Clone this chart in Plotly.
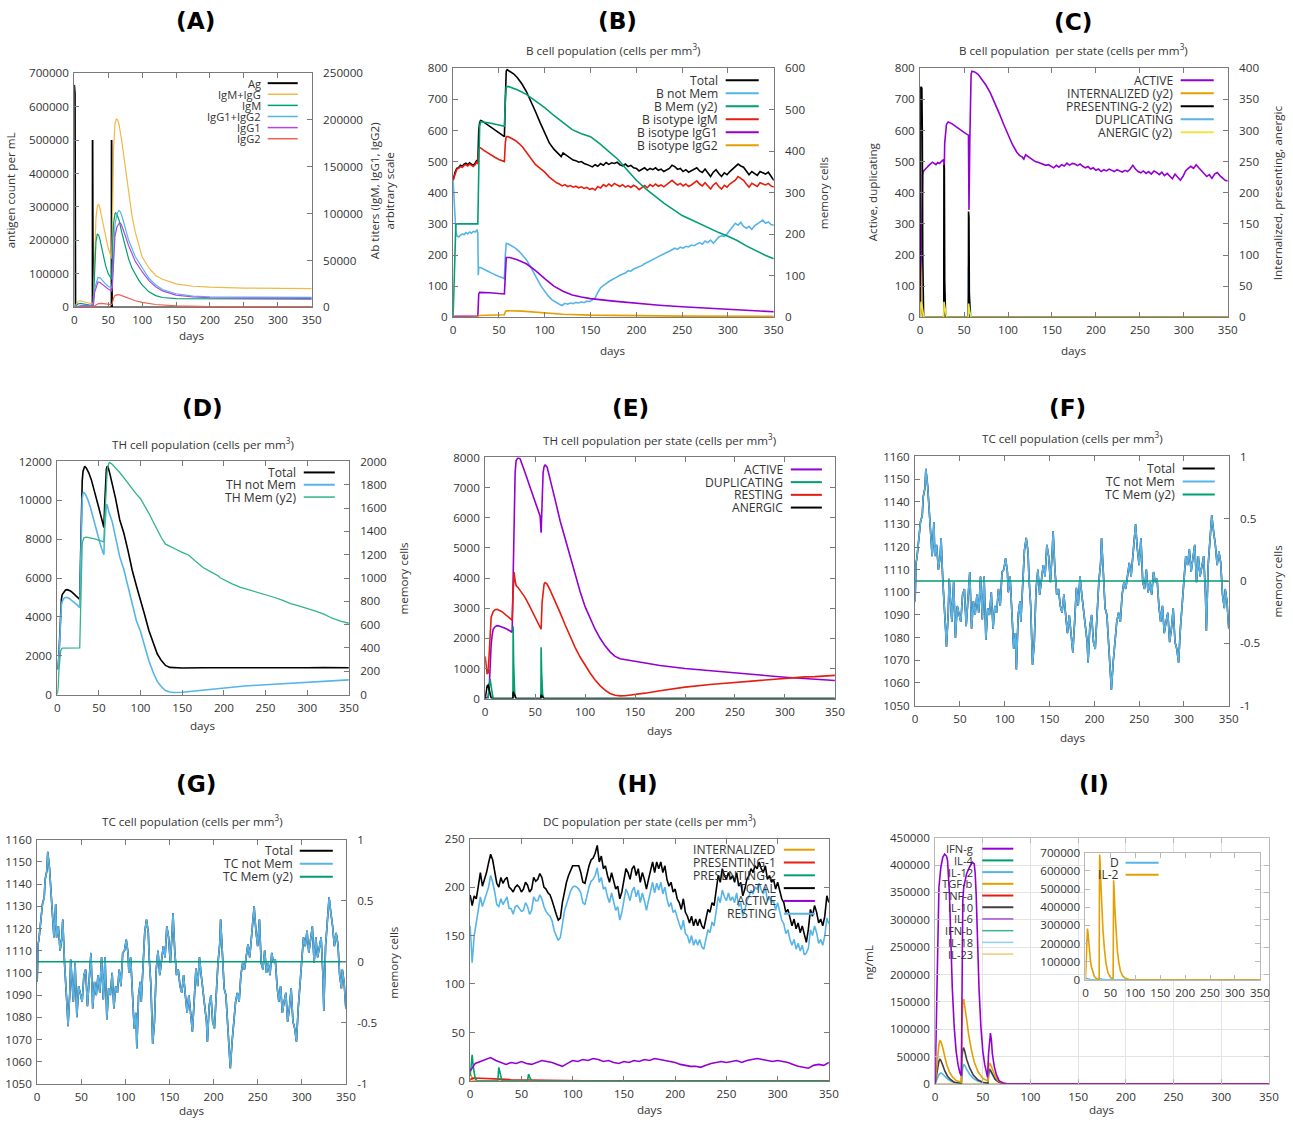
import plotly.graph_objects as go

# Figure canvas; positions below are given in reference-image pixels and mapped to paper
# coordinates (page has an 8px body margin, and the captured page is fitted back to 1293x1123).
W, H = 1293, 1123
OFF = 8
SX, SY = (W + 2 * OFF) / W, (H + 2 * OFF) / H
FS = SX  # font scale so that text keeps its apparent size
FONT = 'Open Sans'
TXT = '#333333'
AXC = '#7a7a7a'
PURPLE = '#9400D3'; GREEN = '#009E73'; LBLUE = '#56B4E9'; ORANGE = '#E69F00'
YELLOW = '#F0E442'; RED = '#E51E10'; BLACK = '#000000'

# ---------------- (A) antibody titers ----------------
A_AG = [(0, 665000), (1, 640000), (1.8, 0), (26.9, 0), (27, 500000), (27.7, 0), (54.9, 0), (55, 500000), (55.7, 0), (350, 0)]
A_IGMG = [(0, 0), (3, 3000), (6, 6500), (9, 7000), (12, 6500), (16, 5500), (20, 4500), (24, 3800), (27, 3500), (28, 6000),
          (30, 60000), (32, 95000), (34, 108000), (36, 110000), (38, 105000), (42, 90000), (46, 75000), (50, 63000), (54, 55000),
          (55, 52000), (56, 80000), (58, 170000), (60, 196000), (62, 201000), (64, 200000), (66, 195000), (70, 178000), (75, 150000),
          (80, 122000), (85, 98000), (90, 80000), (95, 66000), (100, 54000), (110, 42000), (120, 34000), (130, 30000), (150, 25000),
          (175, 22500), (200, 21500), (250, 20500), (300, 20200), (350, 20000)]
A_IGM = [(0, 0), (3, 1500), (6, 3800), (9, 4300), (12, 4000), (16, 3200), (20, 2500), (24, 2000), (27, 1800), (28, 4000),
         (30, 40000), (32, 70000), (34, 78500), (36, 77000), (38, 72000), (42, 58000), (46, 45000), (50, 36000), (54, 31000),
         (55, 30000), (56, 55000), (58, 90000), (60, 100000), (61, 101000), (63, 99000), (66, 93000), (70, 80000), (75, 66000),
         (80, 52000), (85, 42000), (90, 35000), (95, 29000), (100, 24000), (110, 16500), (120, 12500), (130, 10500), (150, 9200),
         (200, 8900), (350, 8800)]
A_IGG12 = [(0, 0), (4, 800), (8, 1800), (12, 2200), (16, 2000), (20, 1700), (27, 1300), (28, 1500), (30, 20000), (33, 29000),
           (35, 32000), (38, 31500), (42, 28000), (46, 25000), (50, 22500), (54, 21000), (55, 20500), (56, 25000), (58, 60000),
           (60, 88000), (63, 100000), (66, 103500), (68, 102000), (70, 98000), (75, 85000), (80, 72000), (90, 54000), (100, 42000),
           (110, 31000), (120, 24000), (130, 19000), (150, 14500), (175, 12000), (200, 11200), (250, 10800), (300, 10700), (350, 10600)]
A_IGG1 = [(0, 0), (4, 600), (8, 1400), (12, 1700), (16, 1600), (20, 1300), (27, 1000), (28, 1200), (30, 16000), (33, 24000),
          (35, 27000), (38, 26500), (42, 24000), (46, 21500), (50, 19500), (54, 18000), (55, 17500), (56, 21000), (58, 50000),
          (60, 76000), (63, 86000), (66, 89500), (68, 90000), (70, 87000), (75, 77000), (80, 66000), (90, 49000), (100, 38000),
          (110, 28500), (120, 22000), (130, 17500), (150, 13000), (175, 11000), (200, 10200), (250, 9800), (300, 9700), (350, 9600)]
A_IGG2 = [(0, 0), (10, 300), (20, 300), (27, 250), (28, 500), (32, 2500), (36, 4000), (40, 4300), (46, 3800), (54, 3000),
          (55, 2900), (56, 4000), (58, 10000), (60, 12500), (64, 13500), (68, 13000), (75, 11000), (80, 9500), (90, 7000),
          (100, 5200), (120, 3000), (150, 1500), (200, 800), (350, 600)]

# ---------------- (B) B cell population ----------------
B_TOTAL = [(0, 440), (2, 465), (4, 478), (6, 480), (8, 488), (10, 485), (12, 492), (14, 495), (16, 490), (18, 496), (20, 492),
           (22, 488), (24, 495), (26, 505), (27, 498), (27.5, 560), (28, 600), (29, 625), (30, 632), (32, 630), (36, 622), (40, 614),
           (44, 605), (48, 596), (52, 588), (55, 582), (56, 580), (57, 700), (58, 790), (59, 795), (62, 790), (66, 782), (70, 770),
           (75, 750), (80, 725), (85, 695), (90, 660), (95, 625), (100, 590), (105, 560), (110, 540), (113, 532), (116, 522),
           (118, 516), (120, 528), (122, 524), (125, 518), (128, 512), (131, 505), (134, 503), (137, 498), (140, 500), (143, 494),
           (146, 491), (149, 486), (152, 483), (155, 490), (158, 485), (161, 494), (164, 488), (167, 497), (170, 491), (173, 496),
           (176, 494), (179, 498), (182, 490), (185, 486), (188, 492), (191, 484), (194, 488), (197, 480), (200, 478), (203, 470),
           (206, 476), (209, 480), (212, 472), (215, 478), (218, 474), (221, 480), (224, 472), (227, 476), (230, 468), (233, 474),
           (236, 478), (239, 488), (242, 484), (245, 475), (248, 478), (251, 468), (254, 474), (257, 466), (260, 470), (263, 476),
           (266, 480), (269, 470), (272, 465), (275, 476), (278, 462), (281, 452), (284, 466), (287, 474), (290, 462), (293, 452),
           (296, 464), (299, 458), (302, 468), (305, 476), (308, 482), (311, 492), (314, 486), (317, 482), (320, 470), (323, 458),
           (326, 468), (329, 462), (332, 456), (335, 468), (338, 464), (341, 460), (344, 466), (347, 452), (350, 440)]
B_NOTMEM = [(0, 440), (1, 400), (2, 330), (3, 280), (4, 262), (6, 258), (8, 262), (10, 268), (12, 265), (14, 272), (16, 268),
            (18, 274), (20, 270), (22, 276), (24, 274), (26, 280), (27, 270), (27.5, 135), (28, 160), (30, 160), (34, 155),
            (38, 148), (42, 142), (46, 136), (50, 131), (54, 127), (56, 124), (57, 200), (58, 237), (60, 236), (64, 230), (68, 222),
            (72, 212), (76, 200), (80, 185), (84, 165), (88, 145), (92, 122), (96, 100), (100, 82), (104, 68), (108, 56), (112, 48),
            (116, 42), (119, 38), (122, 45), (125, 42), (128, 46), (131, 44), (134, 48), (137, 46), (140, 50), (143, 47), (146, 52),
            (149, 50), (152, 56), (155, 62), (158, 80), (161, 95), (164, 102), (167, 110), (170, 115), (173, 120), (176, 126),
            (179, 130), (182, 135), (185, 138), (188, 142), (191, 150), (194, 148), (197, 155), (200, 158), (203, 162), (206, 166),
            (209, 172), (212, 176), (215, 180), (218, 185), (221, 190), (224, 195), (227, 200), (230, 205), (233, 208), (236, 212),
            (239, 216), (242, 222), (245, 218), (248, 225), (251, 222), (254, 228), (257, 226), (260, 232), (263, 230), (266, 236),
            (269, 240), (272, 235), (275, 245), (278, 240), (281, 248), (284, 238), (287, 250), (290, 258), (293, 262), (296, 260),
            (299, 268), (302, 280), (305, 292), (308, 302), (311, 296), (314, 305), (317, 292), (320, 286), (323, 292), (326, 282),
            (329, 294), (332, 300), (335, 306), (338, 312), (341, 302), (344, 306), (347, 298), (350, 296)]
B_MEM = [(0, 0), (1, 100), (2, 190), (3, 222), (4, 225), (27, 225), (28, 350), (29, 460), (30, 471), (40, 468), (50, 463),
         (56, 460), (57, 520), (58, 555), (60, 556), (70, 548), (80, 537), (90, 522), (100, 505), (110, 486), (120, 468),
         (130, 452), (140, 442), (150, 435), (160, 418), (170, 400), (180, 380), (190, 355), (200, 330), (210, 310), (220, 292),
         (230, 275), (240, 260), (250, 245), (260, 235), (270, 224), (280, 214), (290, 204), (300, 195), (310, 185), (320, 172),
         (330, 160), (340, 150), (350, 141)]
B_IGM = [(0, 440), (2, 462), (4, 475), (6, 478), (8, 484), (10, 482), (12, 488), (14, 490), (16, 486), (18, 492), (20, 488),
         (22, 484), (24, 490), (26, 500), (27, 492), (28, 540), (29, 545), (30, 544), (34, 535), (38, 527), (42, 520), (46, 513),
         (50, 507), (54, 501), (56, 500), (57, 560), (58, 580), (60, 580), (64, 575), (68, 568), (72, 558), (76, 546), (80, 530),
         (85, 508), (90, 490), (95, 478), (100, 466), (105, 450), (110, 438), (113, 432), (116, 428), (119, 422), (122, 426),
         (125, 420), (128, 423), (131, 418), (134, 421), (137, 416), (140, 419), (143, 414), (146, 417), (149, 411), (152, 414),
         (155, 409), (158, 420), (161, 415), (164, 426), (167, 420), (170, 428), (173, 421), (176, 430), (179, 424), (182, 420),
         (185, 426), (188, 418), (191, 423), (194, 417), (197, 424), (200, 419), (203, 410), (206, 418), (209, 423), (212, 416),
         (215, 426), (218, 420), (221, 428), (224, 421), (227, 425), (230, 419), (233, 426), (236, 430), (239, 440), (242, 432),
         (245, 425), (248, 430), (251, 422), (254, 428), (257, 420), (260, 425), (263, 432), (266, 438), (269, 428), (272, 422),
         (275, 432), (278, 420), (281, 412), (284, 425), (287, 432), (290, 420), (293, 412), (296, 424), (299, 418), (302, 428),
         (305, 435), (308, 440), (311, 452), (314, 445), (317, 440), (320, 428), (323, 418), (326, 430), (329, 424), (332, 420),
         (335, 432), (338, 428), (341, 425), (344, 430), (347, 422), (350, 418)]
B_IGG1 = [(0, 0), (2, 3), (27, 4), (28, 75), (29, 80), (40, 79), (56, 75), (57, 170), (58, 192), (62, 192), (70, 185), (80, 172),
          (90, 150), (100, 124), (110, 100), (120, 84), (130, 72), (140, 65), (150, 60), (175, 52), (200, 45), (225, 39), (250, 34),
          (275, 30), (300, 26), (325, 22), (350, 18)]
B_IGG2 = [(0, 0), (27, 1), (28, 6), (56, 8), (57, 18), (58, 21), (75, 20), (90, 17), (100, 15), (110, 12), (120, 10), (150, 7),
          (200, 5), (250, 4), (350, 3)]

# ---------------- (C) B cell per state ----------------
C_ACTIVE = [(0, 0), (1, 150), (2, 400), (3, 460), (4, 470), (6, 478), (8, 482), (10, 488), (12, 492), (14, 498), (16, 494),
            (18, 490), (20, 497), (22, 494), (24, 500), (26, 505), (27, 498), (27.5, 480), (28, 560), (29, 610), (30, 620),
            (32, 627), (36, 622), (40, 614), (44, 605), (48, 597), (52, 590), (55, 585), (55.6, 345), (56.5, 560), (57, 700),
            (58, 780), (59, 790), (62, 788), (66, 780), (70, 765), (75, 745), (80, 720), (85, 690), (90, 655), (95, 620), (100, 585),
            (105, 555), (110, 530), (113, 520), (116, 515), (118, 508), (120, 522), (122, 518), (125, 510), (128, 505), (131, 500),
            (134, 498), (137, 495), (140, 492), (143, 488), (146, 490), (149, 484), (152, 480), (155, 488), (158, 482), (161, 490),
            (164, 486), (167, 495), (170, 488), (173, 494), (176, 492), (179, 487), (182, 492), (185, 485), (188, 480), (191, 484),
            (194, 476), (197, 480), (200, 472), (203, 476), (206, 468), (209, 474), (212, 470), (215, 476), (218, 472), (221, 468),
            (224, 474), (227, 470), (230, 466), (233, 472), (236, 468), (239, 476), (242, 488), (245, 476), (248, 468), (251, 464),
            (254, 470), (257, 462), (260, 468), (263, 460), (266, 470), (269, 465), (272, 458), (275, 466), (278, 455), (281, 462),
            (284, 452), (287, 445), (290, 460), (293, 450), (296, 440), (299, 452), (302, 470), (305, 478), (308, 485), (311, 478),
            (314, 490), (317, 480), (320, 470), (323, 462), (326, 452), (329, 458), (332, 446), (335, 460), (338, 465), (341, 455),
            (344, 448), (347, 440), (350, 438)]
C_INTERN = [(0, 0), (0.3, 88), (1, 50), (2, 10), (3, 0), (26.9, 0), (27, 65), (28, 15), (29, 0), (54.9, 0), (55, 30), (56, 5),
            (57, 0), (350, 0)]
C_PRES2 = [(0, 0), (0.3, 340), (0.7, 370), (2, 368), (2.5, 300), (3, 100), (3.5, 20), (4, 0), (26.9, 0), (27.1, 245),
           (27.6, 240), (28, 60), (28.5, 5), (29, 0), (54.9, 0), (55.1, 170), (55.6, 160), (56, 40), (56.5, 5), (57, 0), (350, 0)]
C_DUP = [(0, 0), (1, 50), (2, 20), (3, 0), (26.9, 0), (27.1, 95), (28, 40), (29, 0), (54.9, 0), (55.1, 165), (56, 60), (57, 10),
         (58, 0), (350, 0)]
C_ANERG = [(0, 0), (1, 25), (2, 20), (3, 8), (4, 2), (5, 0), (26.9, 0), (27.2, 25), (28, 15), (29, 3), (30, 0), (54.9, 0),
           (55.2, 22), (56, 12), (57, 3), (58, 0), (350, 0)]

# ---------------- (D) TH cell population ----------------
D_TOTAL = [(0, 1300), (1, 1400), (2, 2000), (3, 3300), (4, 4400), (5, 4900), (6, 5150), (8, 5300), (10, 5380), (12, 5400),
           (14, 5380), (16, 5330), (18, 5260), (20, 5180), (22, 5100), (24, 5020), (26, 4950), (27, 4900), (28, 7000), (29, 9500),
           (30, 11000), (31, 11500), (32, 11700), (33, 11750), (35, 11650), (38, 11400), (41, 11050), (44, 10600), (47, 10100),
           (50, 9600), (53, 9100), (56, 8600), (57, 9800), (58, 11000), (59, 11600), (60, 11750), (61, 11700), (63, 11400),
           (66, 10900), (70, 10100), (75, 9000), (80, 8300), (85, 7400), (90, 6400), (95, 5600), (100, 4900), (105, 4100),
           (110, 3300), (115, 2650), (120, 2100), (125, 1750), (130, 1500), (135, 1400), (140, 1380), (150, 1370), (175, 1380),
           (200, 1375), (225, 1365), (250, 1375), (275, 1370), (300, 1380), (320, 1390), (335, 1380), (350, 1380)]
D_NOTMEM = [(0, 1300), (1, 1350), (2, 1900), (3, 3100), (4, 4100), (5, 4600), (6, 4800), (8, 4950), (10, 5000), (12, 5000),
            (14, 4960), (16, 4900), (18, 4830), (20, 4750), (22, 4680), (24, 4600), (26, 4530), (27, 4480), (28, 6500), (29, 9000),
            (30, 10100), (31, 10350), (32, 10400), (34, 10300), (37, 10000), (40, 9600), (43, 9100), (46, 8600), (49, 8100),
            (52, 7700), (55, 7300), (56, 7200), (57, 8500), (58, 9600), (59, 9800), (60, 9750), (62, 9400), (66, 8900), (70, 8170),
            (75, 7100), (80, 6440), (85, 5590), (90, 4640), (95, 3800), (100, 3250), (105, 2480), (110, 1740), (115, 1160),
            (120, 680), (125, 400), (130, 210), (135, 130), (140, 110), (150, 120), (175, 230), (200, 350), (225, 440), (250, 510),
            (275, 570), (300, 630), (325, 700), (350, 760)]
D_MEM = [(0, 0), (1, 50), (2, 200), (3, 320), (4, 370), (5, 390), (6, 398), (27, 400), (28, 800), (29, 1150), (30, 1300),
         (32, 1345), (35, 1350), (45, 1335), (56, 1310), (57, 1500), (58, 1700), (59, 1850), (60, 1930), (62, 1985), (63, 1990),
         (66, 1975), (70, 1945), (75, 1905), (80, 1860), (85, 1810), (90, 1760), (95, 1720), (100, 1680), (105, 1620), (110, 1555),
         (115, 1485), (120, 1415), (125, 1345), (130, 1290), (135, 1270), (140, 1255), (150, 1220), (158, 1195), (165, 1150),
         (175, 1090), (185, 1050), (193, 1020), (196, 1000), (200, 985), (210, 950), (220, 920), (230, 900), (240, 880),
         (250, 860), (260, 835), (270, 810), (280, 780), (290, 760), (300, 740), (310, 715), (320, 690), (330, 655), (340, 630),
         (350, 612)]

# ---------------- (E) TH cell per state ----------------
E_ACTIVE = [(0, 0), (3, 50), (4, 300), (5, 1200), (6, 1800), (7, 2100), (8, 2300), (10, 2390), (12, 2420), (14, 2410),
            (16, 2390), (18, 2360), (20, 2330), (22, 2300), (24, 2260), (26, 2220), (27, 2200), (28, 4000), (29, 6500), (30, 7500),
            (31, 7900), (33, 8000), (35, 7950), (38, 7700), (41, 7400), (44, 7100), (47, 6800), (50, 6500), (53, 6250), (55, 6050),
            (56, 5500), (57, 6800), (58, 7500), (59, 7700), (60, 7750), (62, 7680), (65, 7300), (70, 6600), (75, 5900), (80, 5300),
            (85, 4700), (90, 4100), (95, 3550), (100, 3050), (105, 2650), (110, 2300), (115, 2000), (120, 1750), (125, 1550),
            (130, 1400), (135, 1320), (140, 1290), (150, 1230), (160, 1180), (175, 1100), (200, 1000), (225, 920), (250, 850),
            (275, 780), (300, 710), (325, 650), (350, 600)]
E_DUP = [(0, 0), (3, 0), (4, 400), (5, 650), (6, 400), (7, 100), (8, 0), (27.8, 0), (28, 2400), (28.5, 1200), (29.5, 200),
         (30.5, 0), (55.8, 0), (56, 1700), (56.5, 900), (57.5, 150), (58.5, 0), (350, 0)]
E_REST = [(0, 1400), (1, 1000), (2, 820), (3, 850), (4, 1500), (5, 2300), (6, 2700), (8, 2880), (10, 2950), (12, 2960),
          (14, 2940), (16, 2900), (18, 2850), (20, 2800), (22, 2750), (24, 2700), (26, 2640), (27, 2600), (28, 3500), (29, 4200),
          (30, 3900), (31, 3750), (33, 3680), (36, 3550), (40, 3350), (44, 3100), (48, 2850), (52, 2600), (55, 2400), (56, 2300),
          (57, 3200), (59, 3800), (60, 3850), (62, 3800), (65, 3600), (70, 3250), (75, 2850), (80, 2450), (85, 2050), (90, 1700),
          (95, 1380), (100, 1100), (105, 850), (110, 620), (115, 430), (120, 280), (125, 170), (130, 110), (135, 90), (140, 95),
          (150, 130), (160, 180), (175, 260), (200, 380), (225, 470), (250, 540), (275, 600), (300, 660), (310, 700), (320, 720),
          (330, 730), (340, 750), (345, 780), (350, 770)]
E_ANERG = [(0, 0), (1, 250), (2, 420), (3, 450), (4, 300), (5, 100), (6, 20), (7, 0), (27.8, 0), (28, 230), (29, 150), (30, 40),
           (31, 0), (55.8, 0), (56, 130), (57, 80), (58, 20), (59, 0), (350, 0)]

# ---------------- (F), (G) TC cell population ----------------
TC_NOTMEM = [(0, 1096), (1, 1113), (2, 1115), (4, 1124), (6, 1131), (8, 1134), (9, 1142), (11, 1146), (12, 1154.5), (14, 1147),
             (16, 1134), (18, 1121), (19, 1116), (21, 1131), (22, 1116), (24, 1121), (26, 1110), (28, 1116), (29, 1124),
             (31, 1104.5), (33, 1093), (34, 1084), (35, 1076), (37, 1091), (38, 1106), (40, 1096), (41, 1087), (43, 1104.5),
             (45, 1080), (47, 1094), (49, 1090), (51, 1087), (53, 1099), (55, 1101.5), (57, 1085), (59, 1097), (61, 1109),
             (63, 1084), (65, 1096), (67, 1090), (69, 1099), (71, 1091), (73, 1107), (75, 1088), (77, 1107), (79, 1079), (81, 1093),
             (83, 1090), (85, 1100), (87, 1084), (89, 1094), (91, 1091), (93, 1101.5), (95, 1094), (97, 1109), (99, 1110),
             (101, 1115), (103, 1109), (104, 1100), (106, 1107), (108, 1087), (110, 1075), (112, 1082), (113, 1066), (115, 1090),
             (117, 1096), (118, 1087), (120, 1104.5), (122, 1118.5), (124, 1124), (126, 1118), (127, 1107), (129, 1094),
             (131, 1068), (133, 1078), (135, 1101.5), (137, 1110), (139, 1099), (141, 1107), (143, 1112), (145, 1107), (147, 1121),
             (149, 1116), (151, 1104.5), (153, 1118), (154, 1127), (156, 1110), (158, 1099), (160, 1101.5), (162, 1094),
             (164, 1091), (166, 1099), (168, 1090), (170, 1082), (172, 1090), (174, 1081), (176, 1073.5), (178, 1087), (180, 1102),
             (182, 1094), (184, 1107), (186, 1099), (188, 1091), (190, 1084), (192, 1078), (193, 1069), (195, 1085), (197, 1090),
             (199, 1078), (201, 1075), (203, 1090), (205, 1104.5), (207, 1113), (208, 1124), (210, 1109), (212, 1093), (214, 1090),
             (216, 1076.5), (218, 1063), (219, 1057), (221, 1069), (223, 1078), (225, 1087), (227, 1091), (229, 1087), (231, 1099),
             (233, 1104.5), (235, 1101.5), (237, 1107), (239, 1113), (241, 1107), (243, 1116), (245, 1124), (246, 1130),
             (248, 1119), (250, 1112), (252, 1124), (254, 1104.5), (256, 1101.5), (258, 1110), (260, 1100), (262, 1104.5),
             (264, 1099), (266, 1109), (268, 1104.5), (270, 1106), (272, 1094), (274, 1087), (276, 1094), (278, 1082), (280, 1087),
             (282, 1091), (284, 1078), (286, 1084), (288, 1093), (290, 1078), (292, 1075), (294, 1069), (296, 1084), (298, 1096),
             (300, 1104.5), (302, 1116), (304, 1112), (306, 1119), (308, 1109), (310, 1116), (312, 1121), (314, 1104.5),
             (316, 1116), (318, 1107), (320, 1112), (322, 1116), (324, 1099), (325, 1083), (327, 1112), (329, 1124), (331, 1134),
             (333, 1127), (335, 1121), (337, 1112), (339, 1118), (341, 1113), (343, 1099), (345, 1093), (346, 1101.5), (348, 1096),
             (350, 1084)]
TC_MEM = [(0, 0), (350, 0)]

# ---------------- (H) DC population per state ----------------
H_DAYS = list(range(0, 351, 2))
H_TOTAL = [192, 181, 191, 188, 201, 215, 201, 208, 215, 225,
           234, 228, 216, 204, 200, 210, 204, 208, 210, 200,
           198, 195, 200, 202, 200, 195, 198, 205, 202, 195,
           198, 210, 206, 208, 214, 210, 200, 198, 194, 192,
           186, 178, 172, 166, 168, 184, 196, 205, 212, 217,
           222, 222, 222, 222, 215, 205, 204, 214, 222, 228,
           230, 235, 243, 226, 232, 219, 222, 212, 205, 215,
           205, 198, 201, 188, 195, 208, 219, 215, 208, 219,
           222, 212, 219, 205, 215, 208, 198, 208, 219, 226,
           215, 226, 219, 226, 215, 222, 208, 201, 205, 195,
           198, 188, 184, 177, 188, 174, 170, 163, 170, 160,
           167, 160, 167, 160, 157, 167, 177, 174, 184, 181,
           198, 212, 205, 219, 212, 208, 215, 208, 212, 205,
           215, 201, 205, 191, 198, 208, 212, 219, 215, 222,
           219, 226, 219, 215, 222, 208, 212, 205, 208, 198,
           205, 195, 188, 184, 174, 177, 167, 160, 167, 157,
           163, 153, 160, 150, 143, 157, 177, 170, 181, 174,
           163, 167, 160, 170, 191, 184]
H_RESTING = [160, 122, 150, 165, 178, 190, 180, 186, 192, 200,
             212, 205, 195, 182, 180, 188, 182, 186, 190, 178,
             178, 172, 180, 181, 178, 175, 176, 184, 180, 172,
             176, 190, 186, 186, 192, 188, 180, 175, 172, 170,
             165, 155, 150, 145, 148, 162, 175, 182, 190, 196,
             200, 201, 200, 198, 194, 184, 182, 192, 200, 206,
             208, 212, 220, 205, 210, 198, 200, 190, 184, 194,
             184, 176, 180, 166, 174, 186, 198, 193, 186, 196,
             200, 190, 197, 184, 194, 186, 176, 186, 197, 205,
             194, 204, 197, 205, 193, 200, 188, 180, 184, 174,
             176, 168, 162, 156, 166, 152, 150, 142, 150, 140,
             146, 140, 146, 138, 136, 146, 156, 153, 164, 160,
             176, 190, 184, 197, 190, 186, 194, 186, 190, 184,
             194, 180, 184, 170, 176, 186, 190, 197, 193, 200,
             198, 204, 197, 193, 200, 186, 190, 184, 186, 176,
             184, 174, 166, 162, 152, 156, 146, 140, 146, 136,
             142, 134, 140, 130, 132, 137, 156, 150, 160, 153,
             142, 146, 140, 150, 168, 162]
H_ACT_DAYS = list(range(0, 351, 5))
H_ACTIVE = [10, 18, 20, 22, 24, 21, 19, 17, 19, 18, 20, 18, 17, 19, 21, 20, 19, 17, 15, 18,
            21, 20, 22, 21, 23, 22, 20, 21, 19, 18, 20, 19, 21, 20, 22, 21, 23, 22, 21, 20,
            19, 17, 16, 15, 15, 14, 16, 18, 19, 20, 19, 20, 21, 19, 21, 22, 23, 22, 21, 20,
            21, 20, 19, 17, 15, 14, 13, 16, 17, 16, 19]
H_INTERN = [(0, 8), (1, 5), (2, 2), (3, 0), (27.5, 0), (28, 2), (29, 0), (350, 0)]
H_PRES1 = [(0, 0), (1, 2), (3, 3), (10, 2.5), (20, 1.8), (27, 1.5), (30, 1.8), (40, 1.2), (56, 1.0), (60, 1.0), (80, 0.6),
           (110, 0.3), (111, 0), (350, 0)]
H_PRES2 = [(0, 5), (1, 18), (2, 27), (3, 15), (4, 6), (5, 2), (7, 0), (27, 0), (28, 14), (29, 8), (30, 3), (31, 0), (56, 0),
           (57, 7), (58, 4), (59, 1), (60, 0), (350, 0)]

# ---------------- (I) cytokines ----------------
I_IFNG = [(0, 0), (1, 110000), (2, 225000), (3, 300000), (4, 360000), (6, 396000), (8, 414000), (10, 420000), (12, 416000),
          (13, 408000), (14, 385000), (15, 348000), (16, 290000), (17, 225000), (18, 175000), (20, 104000), (22, 60000),
          (24, 35000), (26, 20000), (27.5, 15000), (28, 200000), (29, 335000), (30, 360000), (33, 384000), (36, 396000),
          (39, 405000), (41, 402000), (42, 385000), (43, 348000), (44, 290000), (45, 225000), (46, 175000), (48, 104000),
          (50, 60000), (52, 35000), (55, 12000), (56, 55000), (58, 93000), (59, 80000), (60, 55000), (62, 32000), (64, 18000),
          (67, 6000), (72, 1000), (75, 0), (350, 0)]
I_TGFB = [(0, 0), (2, 40000), (4, 72000), (5, 79000), (6, 78000), (8, 66000), (10, 50000), (12, 36000), (15, 22000),
          (18, 13000), (22, 6000), (27.5, 3000), (28, 100000), (29, 150000), (30, 155000), (31, 145000), (33, 118000),
          (35, 92000), (38, 62000), (41, 40000), (45, 22000), (50, 10000), (55.5, 5000), (56, 30000), (57, 38000), (58, 36000),
          (60, 26000), (63, 14000), (66, 6000), (70, 2000), (75, 0), (350, 0)]
I_IL10 = [(0, 0), (2, 25000), (4, 42000), (5, 45000), (6, 43000), (8, 34000), (10, 24000), (13, 14000), (16, 8000), (20, 3000),
          (27.5, 1000), (28, 45000), (29, 63000), (30, 65000), (31, 60000), (33, 45000), (36, 30000), (40, 16000), (45, 7000),
          (50, 3000), (55.5, 1000), (56, 20000), (57, 27000), (58, 25000), (60, 17000), (63, 8000), (67, 3000), (72, 0), (350, 0)]
I_IL12 = [(0, 0), (2, 10000), (4, 17000), (6, 20000), (8, 18000), (10, 14000), (13, 9000), (17, 4500), (22, 2000), (27.5, 1000),
          (28, 18000), (29, 30000), (30, 35000), (31, 34000), (33, 27000), (36, 18000), (40, 10000), (45, 5000), (50, 2500),
          (55.5, 1500), (56, 15000), (57, 22000), (58, 23000), (60, 17000), (63, 9000), (67, 4000), (72, 1000), (77, 0), (350, 0)]
I_ZERO = [(0, 0), (350, 0)]
I_IL2 = [(0, 0), (1, 100000), (2, 220000), (3, 270000), (4, 282000), (5, 260000), (6, 220000), (8, 160000), (10, 105000),
         (12, 70000), (15, 38000), (18, 18000), (22, 7000), (27.5, 2000), (28, 500000), (28.5, 690000), (29.5, 640000),
         (31, 520000), (33, 380000), (35, 280000), (38, 170000), (41, 95000), (45, 40000), (50, 13000), (55.5, 4000),
         (56, 400000), (56.5, 548000), (57.5, 500000), (59, 390000), (61, 280000), (64, 160000), (67, 95000), (70, 50000),
         (75, 20000), (80, 8000), (88, 1000), (95, 0), (350, 0)]
I_D = [(0, 8000), (3, 5000), (6, 3000), (10, 1500), (20, 500), (27, 300), (30, 6000), (33, 3000), (40, 1000), (56, 300),
       (58, 2500), (62, 1000), (70, 300), (80, 0), (350, 0)]

# =====================================================================
fig = go.Figure()
layout = dict(width=W, height=H, margin=dict(l=0, r=0, t=0, b=0), paper_bgcolor='white', plot_bgcolor='white',
              showlegend=False, hovermode=False)
ann = []
shp = []
TICK = 11.5 * FS
LEG = 12 * FS
SUB = 11.5 * FS
ATT = 11.5 * FS


def fx(px):
    return (px * SX - OFF) / W


def fy(py):
    return 1 - (py * SY - OFF) / H


def ref(p, k):
    return p if k == 1 else f'{p}{k}'


def name(p, k):
    return p + 'axis' if k == 1 else f'{p}axis{k}'


def base_axis(col=AXC):
    return dict(showline=True, linecolor=col, linewidth=1, ticks='inside', ticklen=5, tickwidth=1, tickcolor=col,
                showgrid=False, zeroline=False, fixedrange=True,
                tickfont=dict(family=FONT, size=TICK, color=TXT))


def panel(k, box, yr, ydt, y2k=None, y2r=None, y2dt=None, y2ticks=None, col=AXC, grid=False):
    l, r, t, b = box
    xa = base_axis(col)
    xa.update(domain=[fx(l), fx(r)], range=[0, 350], dtick=50, tick0=0, anchor=ref('y', k), mirror='ticks',
              tickangle=0, tickformat='d', ticklabelstandoff=2)
    ya = base_axis(col)
    ya.update(domain=[fy(b), fy(t)], range=yr, dtick=ydt, tick0=yr[0], anchor=ref('x', k), tickformat='d',
              mirror=('ticks' if y2k is None else False), ticklabelstandoff=2)
    if grid:
        xa.update(showgrid=True, gridcolor='#e4e4e4')
        ya.update(showgrid=True, gridcolor='#e4e4e4')
    layout[name('x', k)] = xa
    layout[name('y', k)] = ya
    if y2k:
        y2 = base_axis(col)
        y2.update(overlaying=ref('y', k), side='right', anchor=ref('x', k), range=y2r, ticklabelstandoff=8)
        if y2ticks:
            y2.update(tickvals=y2ticks[0], ticktext=y2ticks[1])
        else:
            y2.update(dtick=y2dt, tick0=y2r[0], tickformat='d')
        layout[name('y', y2k)] = y2


def line(k, data, color, width=1.6, yk=None, xs=None):
    if xs is None:
        xv = [p[0] for p in data]
        yv = [p[1] for p in data]
    else:
        xv, yv = xs, data
    fig.add_trace(go.Scatter(x=xv, y=yv, mode='lines', line=dict(color=color, width=width),
                             xaxis=ref('x', k), yaxis=ref('y', yk or k), hoverinfo='skip', showlegend=False))


def txt(x, y, s, size=11, color=TXT, xanchor='center', angle=0, family=FONT):
    ann.append(dict(x=fx(x), y=fy(y), xref='paper', yref='paper', text=s, showarrow=False, xanchor=xanchor,
                    yanchor='middle', textangle=angle, borderpad=0, font=dict(family=family, size=size, color=color)))


def legend(items, xr, sx0, sx1, y0, dy, size=LEG):
    for i, (lab, col, w) in enumerate(items):
        y = y0 + i * dy
        txt(xr, y, lab, size=size, xanchor='right')
        shp.append(dict(type='line', xref='paper', yref='paper', x0=fx(sx0), x1=fx(sx1), y0=fy(y), y1=fy(y),
                        line=dict(color=col, width=w)))


def letter(x, y, s):
    txt(x, y, '<b>' + s + '</b>', size=23 * FS, color='#000000', family='DejaVu Sans')


SUP3 = 'cells per mm<sup>3</sup>'

# ---- (A)
panel(1, (79, 316, 73, 307), [0, 700000], 100000, y2k=11, y2r=[0, 250000], y2dt=50000)
A_ORANGE = '#F0B848'; A_PURPLE = '#B048E0'; A_RED = '#F06050'
line(1, A_IGMG, A_ORANGE, 1.2, yk=11)
line(1, A_IGM, GREEN, 1.2, yk=11)
line(1, A_IGG12, LBLUE, 1.2, yk=11)
line(1, A_IGG1, A_PURPLE, 1.2, yk=11)
line(1, A_IGG2, A_RED, 1.2, yk=11)
line(1, A_AG, BLACK, 1.8)
letter(200, 20, '(A)')
legend([('Ag', BLACK, 2), ('IgM+IgG', A_ORANGE, 1.5), ('IgM', GREEN, 1.5), ('IgG1+IgG2', LBLUE, 1.5),
        ('IgG1', A_PURPLE, 1.5), ('IgG2', A_RED, 1.5)], 266, 272, 302, 83, 11.1, size=11 * FS)
txt(15, 190, 'antigen count per mL', size=ATT, angle=-90)
txt(386, 190, 'Ab titers (IgM, IgG1, IgG2)<br>arbitrary scale', size=ATT, angle=-90)
txt(196, 335, 'days', size=ATT)

# ---- (B)
panel(2, (457, 777, 68, 317), [0, 800], 100, y2k=12, y2r=[0, 600], y2dt=100)
line(2, B_TOTAL, BLACK)
line(2, B_NOTMEM, LBLUE)
line(2, B_IGM, RED)
line(2, B_IGG1, PURPLE)
line(2, B_IGG2, ORANGE)
line(2, B_MEM, GREEN, yk=12)
letter(621, 20, '(B)')
txt(617, 49, 'B cell population (' + SUP3 + ')', size=SUB)
legend([('Total', BLACK, 2), ('B not Mem', LBLUE, 2), ('B Mem (y2)', GREEN, 2), ('B isotype IgM', RED, 2),
        ('B isotype IgG1', PURPLE, 2), ('B isotype IgG2', ORANGE, 2)], 722, 729, 762, 80, 13)
txt(826, 192, 'memory cells', size=ATT, angle=-90)
txt(616, 350, 'days', size=ATT)

# ---- (C)
panel(3, (923, 1230, 68, 317), [0, 800], 100, y2k=13, y2r=[0, 400], y2dt=50)
line(3, C_ACTIVE, PURPLE)
line(3, C_DUP, LBLUE)
line(3, C_INTERN, ORANGE, yk=13)
line(3, C_PRES2, BLACK, yk=13)
line(3, C_ANERG, YELLOW, yk=13)
letter(1076, 21, '(C)')
txt(1076, 49, 'B cell population \u00a0per state (' + SUP3 + ')', size=SUB)
legend([('ACTIVE', PURPLE, 2), ('INTERNALIZED (y2)', ORANGE, 2), ('PRESENTING-2 (y2)', BLACK, 2),
        ('DUPLICATING', LBLUE, 2), ('ANERGIC (y2)', YELLOW, 2)], 1176, 1183, 1216, 80, 13)
txt(875, 192, 'Active, duplicating', size=ATT, angle=-90)
txt(1279, 192, 'Internalized, presenting, anergic', size=ATT, angle=-90)
txt(1076, 350, 'days', size=ATT)

# ---- (D)
D_GREEN = '#30B488'
panel(4, (62, 353, 461, 694), [0, 12000], 2000, y2k=14, y2r=[0, 2000], y2dt=200)
line(4, D_TOTAL, BLACK)
line(4, D_NOTMEM, LBLUE)
line(4, D_MEM, D_GREEN, 1.3, yk=14)
letter(207, 407, '(D)')
txt(207, 443, 'TH cell population (' + SUP3 + ')', size=SUB)
legend([('Total', BLACK, 2), ('TH not Mem', LBLUE, 2), ('TH Mem (y2)', D_GREEN, 1.5)], 301, 308, 339, 472, 12.3)
txt(408, 577, 'memory cells', size=ATT, angle=-90)
txt(207, 725, 'days', size=ATT)

# ---- (E)
panel(5, (489, 838, 457, 698), [0, 8000], 1000)
line(5, E_ACTIVE, PURPLE)
line(5, E_DUP, GREEN)
line(5, E_REST, RED)
line(5, E_ANERG, BLACK)
letter(634, 407, '(E)')
txt(663, 439, 'TH cell population per state (' + SUP3 + ')', size=SUB)
legend([('ACTIVE', PURPLE, 2), ('DUPLICATING', GREEN, 2), ('RESTING', RED, 2), ('ANERGIC', BLACK, 2)],
       787, 794, 825, 469, 12.7)
txt(663, 730, 'days', size=ATT)

# ---- (F) and (G)
Y2T = ([-1, -0.5, 0, 0.5, 1], ['-1', '-0.5', '0', '0.5', '1'])
for k, y2k, box, lt, sub, leg, rt, xt in [
        (6, 16, (918, 1231, 456, 705), (1070, 407, '(F)'), (1075, 437), (1178, 1185, 1217, 468), (1280, 580), (1075, 737)),
        (7, 17, (42, 350, 839, 1083), (200, 783, '(G)'), (197, 820), (298, 304, 337, 850), (398, 961), (196, 1110))]:
    panel(k, box, [1050, 1160], 10, y2k=y2k, y2r=[-1, 1], y2ticks=Y2T)
    line(k, TC_NOTMEM, BLACK)
    line(k, TC_NOTMEM, LBLUE)
    line(k, TC_MEM, GREEN, yk=y2k)
    letter(*lt)
    txt(sub[0], sub[1], 'TC cell population (' + SUP3 + ')', size=SUB)
    legend([('Total', BLACK, 2), ('TC not Mem', LBLUE, 2), ('TC Mem (y2)', GREEN, 2)], leg[0], leg[1], leg[2], leg[3], 13)
    txt(rt[0], rt[1], 'memory cells', size=ATT, angle=-90)
    txt(xt[0], xt[1], 'days', size=ATT)

# ---- (H)
panel(8, (474, 832, 838, 1080), [0, 250], 50)
line(8, H_INTERN, ORANGE)
line(8, H_PRES1, RED)
line(8, H_PRES2, GREEN)
line(8, H_TOTAL, BLACK, xs=H_DAYS)
line(8, H_ACTIVE, PURPLE, xs=H_ACT_DAYS)
line(8, H_RESTING, LBLUE, xs=H_DAYS)
letter(641, 783, '(H)')
txt(653, 820, 'DC population per state (' + SUP3 + ')', size=SUB)
legend([('INTERNALIZED', ORANGE, 2), ('PRESENTING-1', RED, 2), ('PRESENTING-2', GREEN, 2), ('TOTAL', BLACK, 2),
        ('ACTIVE', PURPLE, 2), ('RESTING', LBLUE, 2)], 780, 787, 818, 849, 12.8)
txt(653, 1109, 'days', size=ATT)

# ---- (I)
ILC = '#b8b8b8'
panel(9, (938, 1271, 837, 1083), [0, 450000], 50000, col=ILC, grid=True)
I_IL10C = '#404040'; I_IL6C = '#A64BD6'; I_IFNBC = '#3FB38E'; I_IL18C = '#8FD0F0'; I_IL23C = '#F4C873'
for col in [GREEN, RED, I_IL6C, I_IFNBC, I_IL18C, I_IL23C]:
    line(9, I_ZERO, col)
line(9, I_IL12, LBLUE)
line(9, I_IL10, I_IL10C)
line(9, I_TGFB, ORANGE)
line(9, I_IFNG, PURPLE)
letter(1097, 783, '(I)')
legend([('IFN-g', PURPLE, 2), ('IL-4', GREEN, 2), ('IL-12', LBLUE, 2), ('TGF-b', ORANGE, 2), ('TNF-a', RED, 2),
        ('IL-10', I_IL10C, 2), ('IL-6', I_IL6C, 1.5), ('IFN-b', I_IFNBC, 1.5), ('IL-18', I_IL18C, 1.5),
        ('IL-23', I_IL23C, 1.5)], 977, 985, 1016, 848, 11.7, size=11 * FS)
txt(872, 961, 'ng/mL', size=ATT, angle=-90)
txt(1104, 1109, 'days', size=ATT)

# inset
panel(20, (1088, 1262, 852, 979), [0, 700000], 100000, col=ILC)
line(20, I_D, LBLUE)
line(20, I_IL2, ORANGE)
legend([('D', LBLUE, 2), ('IL-2', ORANGE, 2)], 1122, 1128, 1161, 862, 12)

layout['annotations'] = ann
layout['shapes'] = shp
fig.update_layout(**layout)
fig.write_html('out.html', config={'staticPlot': True})
